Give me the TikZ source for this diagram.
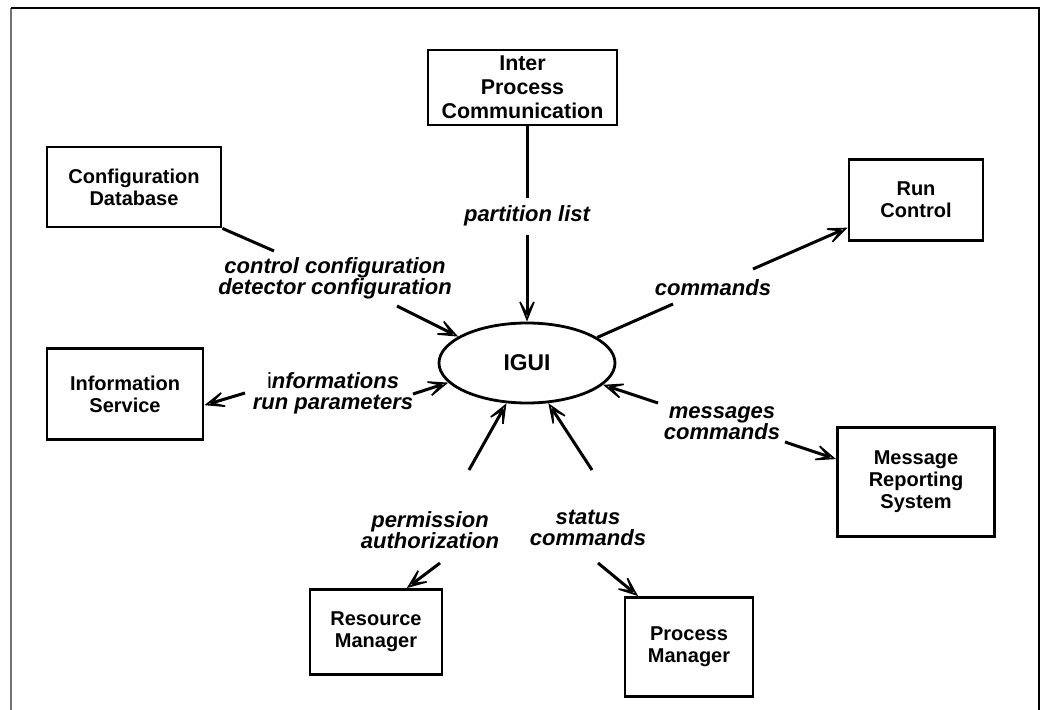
\documentclass[tikz,border=0pt]{standalone}
\usepackage{fontspec}
\setmainfont{Liberation Sans}
\usetikzlibrary{arrows.meta,shapes.geometric}

\begin{document}
\begin{tikzpicture}[x=0.5pt,y=-0.5pt,
  box/.style={draw, line width=1.4pt, inner sep=0pt, align=center,
    font=\fontsize{10}{11}\selectfont\bfseries},
  lbl/.style={align=center, inner sep=0pt,
    font=\fontsize{11}{10.5}\selectfont\bfseries\itshape},
  link/.style={line width=1.5pt},
  tip/.style={link, -{Stealth[open, length=15pt, width=12pt, inset=10.5pt, line width=0.8pt]}},
]
\useasboundingbox (0,0) rectangle (1048,710);

% frame, open at the bottom
\draw[line width=1pt, black!55] (11,710) -- (11,8);
\draw[line width=1pt] (11,8) -- (1039,8) -- (1039,710);

% components
\node[ellipse, draw, line width=1.4pt, minimum width=88pt, minimum height=40pt,
      inner sep=0pt, font=\fontsize{11.4}{12}\selectfont\bfseries] (ig) at (527,363) {IGUI};
\node[box, minimum width=94.5pt, minimum height=37.5pt,
      font=\fontsize{10.7}{12}\selectfont\bfseries] (ipc) at (522.5,87.5)
  {Inter\\Process\\Communication};
\node[box, minimum width=87pt, minimum height=40pt] (cdb) at (134,187)
  {Configuration\\Database};
\node[box, minimum width=67pt, minimum height=40.5pt] (rc) at (916,200)
  {Run\\Control};
\node[box, minimum width=78pt, minimum height=45.5pt] (inf) at (125,394)
  {Information\\Service};
\node[box, minimum width=78.5pt, minimum height=54.5pt] (mrs) at (916,482)
  {Message\\Reporting\\System};
\node[box, minimum width=66pt, minimum height=42.5pt] (rm) at (376,632)
  {Resource\\Manager};
\node[box, minimum width=64pt, minimum height=49.5pt] (pm) at (689,647)
  {Process\\Manager};

% partition list
\coordinate (a1) at (527,198);
\coordinate (a2) at (527,235);
\draw[link] (a1 |- ipc.south) -- (a1);
\node[lbl] (la) at (527,216) {partition list};
\draw[tip] (a2) -- (ig.90);

% configuration
\coordinate (b1) at (274,251);
\coordinate (b2) at (397,306);
\draw[link] (cdb.south east) -- (b1);
\node[lbl] (lb) at (335,278) {control configuration\\detector configuration};
\draw[tip] (b2) -- (ig.159);

% run control commands
\coordinate (c1) at (673,304);
\coordinate (c2) at (753,269);
\draw[link] (ig.20) -- (c1);
\node[lbl] (lc) at (713,288) {commands};
\draw[tip] (c2) -- (rc.202.7);

% information service
\coordinate (d1) at (413,394);
\coordinate (d2) at (245,393);
\draw[tip] (d1) -- (ig.194);
\node[lbl] (ld) at (333,393) {{\mdseries\upshape i}nformations\\run parameters};
\draw[tip] (d2) -- (inf.352);

% message reporting
\coordinate (e1) at (658,403);
\coordinate (e2) at (785,442);
\draw[tip] (e1) -- (ig.344);
\node[lbl] (le) at (722,423) {messages\\commands};
\draw[tip] (e2) -- (mrs.164);

% resource manager
\coordinate (f1) at (469,470);
\coordinate (f2) at (440,563);
\draw[tip] (f1) -- (ig.243);
\node[lbl] (lf) at (430,530) {permission\\authorization};
\draw[tip] (f2) -- (rm.55);

% process manager
\coordinate (g1) at (592,470);
\coordinate (g2) at (598,563);
\draw[tip] (g1) -- (ig.298);
\node[lbl] (lg) at (588,528) {status\\commands};
\draw[tip] (g2) -- (pm.135);
\end{tikzpicture}
\end{document}
